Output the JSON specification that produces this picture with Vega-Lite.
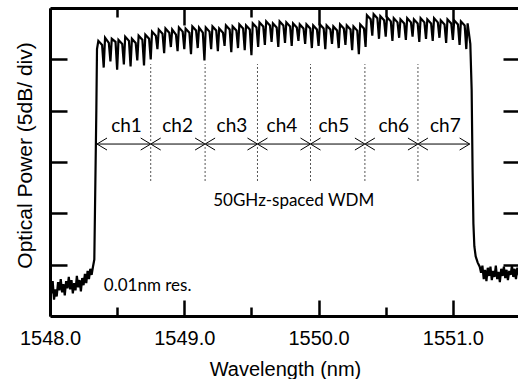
{
  "$schema": "https://vega.github.io/schema/vega-lite/v6.json",
  "width": 470,
  "height": 308,
  "autosize": "none",
  "padding": {"left": 50, "top": 8, "right": 0, "bottom": 63},
  "background": "white",
  "config": {
    "view": {"stroke": null},
    "axis": {"grid": false, "domainColor": "black", "tickColor": "black", "labelColor": "black", "titleColor": "black"}
  },
  "datasets": {
    "spec": [
      {"w": 1548.000, "p": 3.0}, {"w": 1548.010, "p": 2.2}, {"w": 1548.020, "p": 3.4}, {"w": 1548.030, "p": 1.6},
      {"w": 1548.040, "p": 2.6}, {"w": 1548.050, "p": 1.9}, {"w": 1548.060, "p": 3.3}, {"w": 1548.070, "p": 2.5},
      {"w": 1548.080, "p": 3.6}, {"w": 1548.090, "p": 2.3}, {"w": 1548.100, "p": 3.1}, {"w": 1548.110, "p": 2.0},
      {"w": 1548.120, "p": 3.4}, {"w": 1548.130, "p": 2.7}, {"w": 1548.140, "p": 3.8}, {"w": 1548.150, "p": 2.6},
      {"w": 1548.160, "p": 3.5}, {"w": 1548.170, "p": 2.2}, {"w": 1548.180, "p": 3.2}, {"w": 1548.190, "p": 2.5},
      {"w": 1548.200, "p": 3.9}, {"w": 1548.210, "p": 2.8}, {"w": 1548.220, "p": 3.5}, {"w": 1548.230, "p": 2.4},
      {"w": 1548.240, "p": 3.7}, {"w": 1548.250, "p": 3.0}, {"w": 1548.260, "p": 4.1}, {"w": 1548.270, "p": 3.2},
      {"w": 1548.280, "p": 4.4}, {"w": 1548.290, "p": 3.6}, {"w": 1548.300, "p": 4.6}, {"w": 1548.310, "p": 4.0},
      {"w": 1548.320, "p": 4.8}, {"w": 1548.330, "p": 5.5}, {"w": 1548.345, "p": 20.0}, {"w": 1548.350, "p": 26.0},
      {"w": 1548.360, "p": 26.8}, {"w": 1548.388, "p": 26.4}, {"w": 1548.400, "p": 24.2},
      {"w": 1548.410, "p": 27.1}, {"w": 1548.438, "p": 26.6}, {"w": 1548.450, "p": 24.8},
      {"w": 1548.460, "p": 27.0}, {"w": 1548.488, "p": 26.7}, {"w": 1548.500, "p": 24.0},
      {"w": 1548.510, "p": 26.9}, {"w": 1548.538, "p": 26.5}, {"w": 1548.550, "p": 24.5},
      {"w": 1548.560, "p": 27.2}, {"w": 1548.588, "p": 26.8}, {"w": 1548.600, "p": 24.3},
      {"w": 1548.610, "p": 27.0}, {"w": 1548.638, "p": 26.6}, {"w": 1548.650, "p": 24.9},
      {"w": 1548.660, "p": 27.3}, {"w": 1548.688, "p": 26.9}, {"w": 1548.700, "p": 24.4},
      {"w": 1548.710, "p": 27.4}, {"w": 1548.738, "p": 27.0}, {"w": 1548.750, "p": 25.0},
      {"w": 1548.760, "p": 27.7}, {"w": 1548.788, "p": 27.3}, {"w": 1548.800, "p": 26.0},
      {"w": 1548.810, "p": 27.9}, {"w": 1548.838, "p": 27.5}, {"w": 1548.850, "p": 25.6},
      {"w": 1548.860, "p": 28.0}, {"w": 1548.888, "p": 27.6}, {"w": 1548.900, "p": 26.2},
      {"w": 1548.910, "p": 27.9}, {"w": 1548.938, "p": 27.4}, {"w": 1548.950, "p": 25.8},
      {"w": 1548.960, "p": 28.1}, {"w": 1548.988, "p": 27.7}, {"w": 1549.000, "p": 26.0},
      {"w": 1549.010, "p": 28.0}, {"w": 1549.038, "p": 27.6}, {"w": 1549.050, "p": 25.5},
      {"w": 1549.060, "p": 28.2}, {"w": 1549.088, "p": 27.8}, {"w": 1549.100, "p": 26.1},
      {"w": 1549.110, "p": 28.1}, {"w": 1549.138, "p": 27.6}, {"w": 1549.150, "p": 24.9},
      {"w": 1549.160, "p": 28.1}, {"w": 1549.188, "p": 27.7}, {"w": 1549.200, "p": 26.0},
      {"w": 1549.210, "p": 28.2}, {"w": 1549.238, "p": 27.8}, {"w": 1549.250, "p": 25.8},
      {"w": 1549.260, "p": 28.0}, {"w": 1549.288, "p": 27.6}, {"w": 1549.300, "p": 26.3},
      {"w": 1549.310, "p": 28.3}, {"w": 1549.338, "p": 27.9}, {"w": 1549.350, "p": 25.7},
      {"w": 1549.360, "p": 28.2}, {"w": 1549.388, "p": 27.8}, {"w": 1549.400, "p": 26.1},
      {"w": 1549.410, "p": 28.4}, {"w": 1549.438, "p": 28.0}, {"w": 1549.450, "p": 25.9},
      {"w": 1549.460, "p": 28.3}, {"w": 1549.488, "p": 27.9}, {"w": 1549.500, "p": 25.4},
      {"w": 1549.510, "p": 28.5}, {"w": 1549.538, "p": 28.1}, {"w": 1549.550, "p": 26.2},
      {"w": 1549.560, "p": 28.6}, {"w": 1549.588, "p": 28.2}, {"w": 1549.600, "p": 26.4},
      {"w": 1549.610, "p": 28.7}, {"w": 1549.638, "p": 28.3}, {"w": 1549.650, "p": 26.7},
      {"w": 1549.660, "p": 28.5}, {"w": 1549.688, "p": 28.1}, {"w": 1549.700, "p": 26.2},
      {"w": 1549.710, "p": 28.7}, {"w": 1549.738, "p": 28.3}, {"w": 1549.750, "p": 26.6},
      {"w": 1549.760, "p": 28.6}, {"w": 1549.788, "p": 28.2}, {"w": 1549.800, "p": 26.3},
      {"w": 1549.810, "p": 28.5}, {"w": 1549.838, "p": 28.1}, {"w": 1549.850, "p": 26.8},
      {"w": 1549.860, "p": 28.4}, {"w": 1549.888, "p": 28.0}, {"w": 1549.900, "p": 26.5},
      {"w": 1549.910, "p": 28.4}, {"w": 1549.938, "p": 28.0}, {"w": 1549.950, "p": 26.1},
      {"w": 1549.960, "p": 28.3}, {"w": 1549.988, "p": 27.9}, {"w": 1550.000, "p": 26.3},
      {"w": 1550.010, "p": 28.4}, {"w": 1550.038, "p": 28.0}, {"w": 1550.050, "p": 26.0},
      {"w": 1550.060, "p": 28.3}, {"w": 1550.088, "p": 27.9}, {"w": 1550.100, "p": 26.5},
      {"w": 1550.110, "p": 28.2}, {"w": 1550.138, "p": 27.8}, {"w": 1550.150, "p": 26.1},
      {"w": 1550.160, "p": 28.4}, {"w": 1550.188, "p": 28.0}, {"w": 1550.200, "p": 26.4},
      {"w": 1550.210, "p": 28.3}, {"w": 1550.238, "p": 27.9}, {"w": 1550.250, "p": 25.9},
      {"w": 1550.260, "p": 28.2}, {"w": 1550.288, "p": 27.8}, {"w": 1550.300, "p": 25.5},
      {"w": 1550.310, "p": 28.4}, {"w": 1550.338, "p": 28.0}, {"w": 1550.350, "p": 26.2},
      {"w": 1550.360, "p": 29.3}, {"w": 1550.388, "p": 28.9}, {"w": 1550.400, "p": 27.3},
      {"w": 1550.410, "p": 29.4}, {"w": 1550.438, "p": 29.0}, {"w": 1550.450, "p": 27.0},
      {"w": 1550.460, "p": 29.2}, {"w": 1550.488, "p": 28.8}, {"w": 1550.500, "p": 27.2},
      {"w": 1550.510, "p": 29.1}, {"w": 1550.538, "p": 28.7}, {"w": 1550.550, "p": 26.8},
      {"w": 1550.560, "p": 29.0}, {"w": 1550.588, "p": 28.6}, {"w": 1550.600, "p": 27.1},
      {"w": 1550.610, "p": 28.9}, {"w": 1550.638, "p": 28.5}, {"w": 1550.650, "p": 26.9},
      {"w": 1550.660, "p": 29.0}, {"w": 1550.688, "p": 28.6}, {"w": 1550.700, "p": 27.2},
      {"w": 1550.710, "p": 28.9}, {"w": 1550.738, "p": 28.5}, {"w": 1550.750, "p": 26.7},
      {"w": 1550.760, "p": 29.0}, {"w": 1550.788, "p": 28.6}, {"w": 1550.800, "p": 27.0},
      {"w": 1550.810, "p": 28.9}, {"w": 1550.838, "p": 28.5}, {"w": 1550.850, "p": 26.8},
      {"w": 1550.860, "p": 29.0}, {"w": 1550.888, "p": 28.6}, {"w": 1550.900, "p": 27.1},
      {"w": 1550.910, "p": 28.8}, {"w": 1550.938, "p": 28.4}, {"w": 1550.950, "p": 26.6},
      {"w": 1550.960, "p": 28.9}, {"w": 1550.988, "p": 28.5}, {"w": 1551.000, "p": 26.9},
      {"w": 1551.010, "p": 28.8}, {"w": 1551.038, "p": 28.4}, {"w": 1551.050, "p": 26.4},
      {"w": 1551.060, "p": 28.7}, {"w": 1551.088, "p": 28.3}, {"w": 1551.100, "p": 26.0},
      {"w": 1551.110, "p": 28.5}, {"w": 1551.130, "p": 26.5}, {"w": 1551.140, "p": 22.0},
      {"w": 1551.147, "p": 14.0}, {"w": 1551.153, "p": 9.0}, {"w": 1551.160, "p": 6.8},
      {"w": 1551.170, "p": 5.8}, {"w": 1551.185, "p": 5.2}, {"w": 1551.200, "p": 4.8},
      {"w": 1551.210, "p": 4.2}, {"w": 1551.220, "p": 4.9}, {"w": 1551.230, "p": 3.6}, {"w": 1551.240, "p": 4.5},
      {"w": 1551.250, "p": 3.4}, {"w": 1551.260, "p": 4.7}, {"w": 1551.270, "p": 3.9}, {"w": 1551.280, "p": 4.8},
      {"w": 1551.290, "p": 3.5}, {"w": 1551.300, "p": 4.4}, {"w": 1551.310, "p": 3.8}, {"w": 1551.320, "p": 4.9},
      {"w": 1551.330, "p": 3.6}, {"w": 1551.340, "p": 4.3}, {"w": 1551.350, "p": 3.3}, {"w": 1551.360, "p": 4.6},
      {"w": 1551.370, "p": 3.9}, {"w": 1551.380, "p": 4.8}, {"w": 1551.390, "p": 3.7}, {"w": 1551.400, "p": 4.5},
      {"w": 1551.410, "p": 3.5}, {"w": 1551.420, "p": 4.4}, {"w": 1551.430, "p": 4.0}, {"w": 1551.440, "p": 4.9},
      {"w": 1551.450, "p": 3.8}, {"w": 1551.460, "p": 4.6}, {"w": 1551.470, "p": 3.6}, {"w": 1551.480, "p": 4.7},
      {"w": 1551.490, "p": 4.1}, {"w": 1551.500, "p": 4.5}
    ],
    "chan": [
      {"ch": "ch1", "a": 1548.35, "b": 1548.75, "lx": 1548.57},
      {"ch": "ch2", "a": 1548.75, "b": 1549.155, "lx": 1548.95},
      {"ch": "ch3", "a": 1549.155, "b": 1549.545, "lx": 1549.355},
      {"ch": "ch4", "a": 1549.545, "b": 1549.94, "lx": 1549.727},
      {"ch": "ch5", "a": 1549.94, "b": 1550.345, "lx": 1550.114},
      {"ch": "ch6", "a": 1550.345, "b": 1550.74, "lx": 1550.56},
      {"ch": "ch7", "a": 1550.74, "b": 1551.125, "lx": 1550.944}
    ],
    "heads": [
      {"x": 1548.35, "d": "L"}, {"x": 1548.75, "d": "L"}, {"x": 1549.155, "d": "L"}, {"x": 1549.545, "d": "L"},
      {"x": 1549.94, "d": "L"}, {"x": 1550.345, "d": "L"}, {"x": 1550.74, "d": "L"},
      {"x": 1548.75, "d": "R"}, {"x": 1549.155, "d": "R"}, {"x": 1549.545, "d": "R"}, {"x": 1549.94, "d": "R"},
      {"x": 1550.345, "d": "R"}, {"x": 1550.74, "d": "R"}, {"x": 1551.125, "d": "R"}
    ],
    "bounds": [
      {"b": 1548.75}, {"b": 1549.155}, {"b": 1549.545}, {"b": 1549.94}, {"b": 1550.345}, {"b": 1550.74}
    ],
    "notes": [
      {"t": "50GHz-spaced WDM", "x": 1549.815, "y": 10.7},
      {"t": "0.01nm res.", "x": 1548.727, "y": 2.39}
    ]
  },
  "layer": [
    {
      "data": {"name": "spec"},
      "mark": {"type": "line", "color": "black", "strokeWidth": 2.2},
      "encoding": {
        "x": {
          "field": "w", "type": "quantitative",
          "scale": {"domain": [1548, 1551.5], "nice": false, "zero": false},
          "axis": {
            "orient": "bottom", "values": [1548, 1549, 1550, 1551], "format": ".1f",
            "tickSize": -16, "tickWidth": 2.5, "domainWidth": 3,
            "labelFont": "Liberation Sans", "labelFontSize": 20, "labelPadding": 44,
            "labelBaseline": "alphabetic", "labelFlush": false, "labelOverlap": false,
            "title": "Wavelength (nm)", "titleFont": "Liberation Sans", "titleFontSize": 20,
            "titleFontWeight": "normal", "titleY": 59, "titleBaseline": "alphabetic"
          }
        },
        "y": {
          "field": "p", "type": "quantitative",
          "scale": {"domain": [0, 30], "nice": false, "zero": false},
          "axis": {
            "orient": "left", "values": [5, 10, 15, 20, 25], "labels": false,
            "tickSize": -17, "tickWidth": 2.5, "domainWidth": 3,
            "title": "Optical Power (5dB/ div)", "titleFont": "Liberation Sans", "titleFontSize": 21,
            "titleFontWeight": "normal", "titleAngle": 270, "titleX": -15, "titleY": 147,
            "titleBaseline": "bottom", "titleAlign": "center"
          }
        }
      }
    },
    {
      "data": {"name": "chan"},
      "mark": {"type": "rule", "color": "black", "strokeWidth": 1},
      "encoding": {
        "x": {
          "field": "a", "type": "quantitative",
          "scale": {"domain": [1548, 1551.5], "nice": false, "zero": false},
          "axis": {
            "orient": "top", "values": [1548, 1549, 1550, 1551], "labels": false,
            "tickSize": -17, "tickWidth": 2.5, "domainWidth": 3, "title": null
          }
        },
        "x2": {"field": "b"},
        "y": {
          "datum": 16.75, "type": "quantitative",
          "scale": {"domain": [0, 30], "nice": false, "zero": false},
          "axis": {
            "orient": "right", "values": [5, 10, 15, 20, 25], "labels": false,
            "tickSize": -17, "tickWidth": 2.5, "domain": false, "title": null
          }
        }
      }
    },
    {
      "data": {"name": "heads"},
      "mark": {"type": "point", "filled": false, "stroke": "black", "strokeWidth": 1, "size": 400, "opacity": 1},
      "encoding": {
        "x": {
          "field": "x", "type": "quantitative",
          "scale": {"domain": [1548, 1551.5], "nice": false, "zero": false},
          "axis": {
            "orient": "top", "values": [1548.5, 1549.5, 1550.5], "labels": false,
            "tickSize": -9, "tickWidth": 2.5, "domain": false, "title": null
          }
        },
        "y": {"datum": 16.75, "type": "quantitative", "scale": {"domain": [0, 30], "nice": false, "zero": false}, "axis": null},
        "shape": {
          "field": "d", "type": "nominal",
          "scale": {"domain": ["L", "R"], "range": ["M1,-0.6L0,0L1,0.6", "M-1,-0.6L0,0L-1,0.6"]},
          "legend": null
        }
      }
    },
    {
      "data": {"name": "bounds"},
      "mark": {"type": "rule", "color": "#555555", "strokeWidth": 1, "strokeDash": [2, 2]},
      "encoding": {
        "x": {
          "field": "b", "type": "quantitative",
          "scale": {"domain": [1548, 1551.5], "nice": false, "zero": false},
          "axis": {
            "orient": "bottom", "values": [1548.5, 1549.5, 1550.5], "labels": false,
            "tickSize": -9, "tickWidth": 2.5, "domain": false, "title": null
          }
        },
        "y": {"datum": 13.15, "type": "quantitative", "scale": {"domain": [0, 30], "nice": false, "zero": false}, "axis": null},
        "y2": {"datum": 24.54}
      }
    },
    {
      "data": {"name": "chan"},
      "mark": {"type": "text", "font": "Lato", "fontSize": 19, "color": "black", "align": "center", "baseline": "alphabetic"},
      "encoding": {
        "x": {"field": "lx", "type": "quantitative", "scale": {"domain": [1548, 1551.5], "nice": false, "zero": false}, "axis": null},
        "y": {"datum": 17.9, "type": "quantitative", "scale": {"domain": [0, 30], "nice": false, "zero": false}, "axis": null},
        "text": {"field": "ch"}
      }
    },
    {
      "data": {"name": "notes"},
      "mark": {"type": "text", "font": "Lato", "fontSize": 17, "color": "black", "align": "center", "baseline": "alphabetic"},
      "encoding": {
        "x": {"field": "x", "type": "quantitative", "scale": {"domain": [1548, 1551.5], "nice": false, "zero": false}, "axis": null},
        "y": {"field": "y", "type": "quantitative", "scale": {"domain": [0, 30], "nice": false, "zero": false}, "axis": null},
        "text": {"field": "t"}
      }
    }
  ],
  "resolve": {"axis": {"x": "independent", "y": "independent"}}
}
